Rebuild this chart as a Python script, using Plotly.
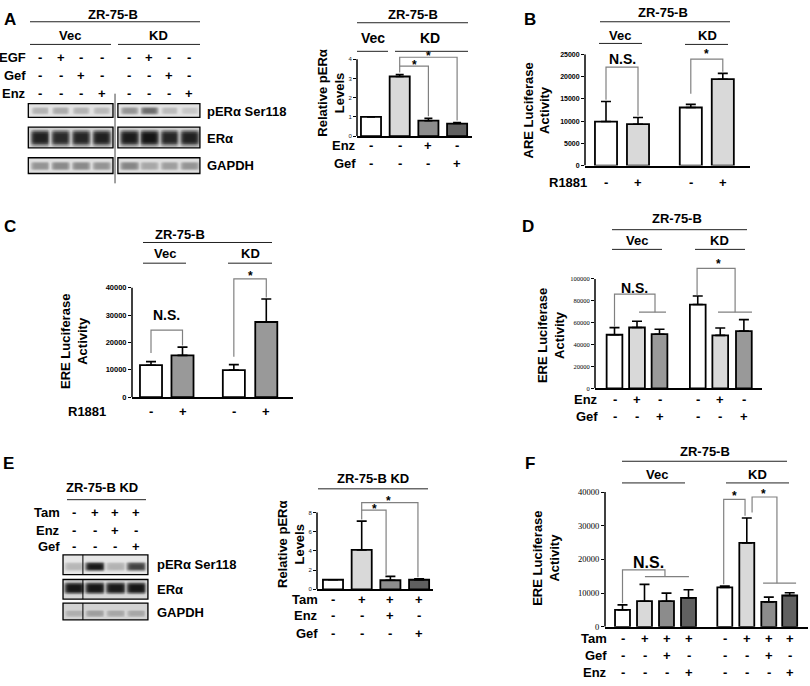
import numpy as np
import plotly.graph_objects as go

W, H = 810, 686
SANS = "Liberation Sans"
SERIF = "Liberation Serif"

# ======================= DATA =======================
# Panel A - western blot (band darkness 0..1); lanes: Vec x4, KD x4
a_egf = ["-", "+", "-", "-", "-", "+", "-", "-"]
a_gef = ["-", "-", "+", "-", "-", "-", "+", "-"]
a_enz = ["-", "-", "-", "+", "-", "-", "-", "+"]
a_per_band = [0.30, 0.34, 0.30, 0.27, 0.45, 0.62, 0.26, 0.20]
a_era_band = [0.92, 0.88, 0.90, 0.92, 0.94, 0.97, 0.90, 0.92]
a_gapdh_band = [0.45, 0.50, 0.50, 0.45, 0.52, 0.36, 0.40, 0.45]

# Panel A - quantification of pERa
a_vals = [1.0, 3.1, 0.80, 0.65]
a_errs = [0.0, 0.10, 0.12, 0.05]
a_enz_q = ["-", "-", "+", "-"]
a_gef_q = ["-", "-", "-", "+"]
a_ticks = [0, 1, 2, 3, 4]

# Panel B - ARE luciferase
b_vals = [9900, 9300, 13050, 19400]
b_errs = [4500, 1500, 700, 1300]
b_r1881 = ["-", "+", "-", "+"]
b_ticks = [0, 5000, 10000, 15000, 20000, 25000]

# Panel C - ERE luciferase
c_vals = [11700, 15300, 9900, 27500]
c_errs = [1300, 3000, 2000, 8400]
c_r1881 = ["-", "+", "-", "+"]
c_ticks = [0, 10000, 20000, 30000, 40000]

# Panel D - ERE luciferase
d_vals = [49000, 55600, 49500, 76600, 48400, 52300]
d_errs = [6500, 5700, 4500, 7800, 6800, 10500]
d_enz = ["-", "+", "-", "-", "+", "-"]
d_gef = ["-", "-", "+", "-", "-", "+"]
d_ticks = [0, 20000, 40000, 60000, 80000, 100000]

# Panel E - western blot (ZR-75-B KD)
e_tam = ["-", "+", "+", "+"]
e_enz = ["-", "-", "+", "-"]
e_gef = ["-", "-", "-", "+"]
e_per_band = [0.28, 0.95, 0.30, 0.78]
e_era_band = [0.96, 0.96, 0.95, 0.96]
e_gapdh_band = [0.32, 0.40, 0.36, 0.36]

# Panel E - quantification
e_vals = [1.0, 4.1, 0.95, 1.0]
e_errs = [0.0, 3.0, 0.40, 0.10]
e_ticks = [0, 2, 4, 6, 8]

# Panel F - ERE luciferase
f_vals = [5000, 7600, 7600, 8600, 11700, 24900, 7400, 9300]
f_errs = [1500, 5000, 2400, 2400, 400, 7400, 1400, 800]
f_tam = ["-", "+", "+", "+", "-", "+", "+", "+"]
f_gef = ["-", "-", "+", "-", "-", "-", "+", "-"]
f_enz = ["-", "-", "-", "+", "-", "-", "-", "+"]
f_ticks = [0, 10000, 20000, 30000, 40000]

# ======================= DRAWING =======================
fig = go.Figure()
axes = {}
annots = []
shapes = []


def keys(i):
    s = "" if i == 1 else str(i)
    return "xaxis" + s, "yaxis" + s, "x" + s, "y" + s


def text(x, y, s, size=13, bold=True, xanchor="center", yanchor="middle",
         angle=0, xref="paper", family=SANS, yshift=0):
    annots.append(dict(
        x=x / W if xref == "paper" else x, y=1 - y / H, xref=xref, yref="paper",
        text=("<b>%s</b>" % s) if bold else s, showarrow=False,
        xanchor=xanchor, yanchor=yanchor, textangle=angle, yshift=yshift,
        font=dict(family=family, size=size, color="black")))


def hline(x0, x1, y, color="#222222", width=1.0):
    shapes.append(dict(type="line", xref="paper", yref="paper",
                       x0=x0 / W, x1=x1 / W, y0=1 - y / H, y1=1 - y / H,
                       line=dict(color=color, width=width)))


def header(cx, cy, s, x0, x1, ly, size=13):
    text(cx, cy, s, size=size)
    hline(x0, x1, ly)


def sign_rows(xref, pos, rows, right_px, size=13):
    for label, signs, y in rows:
        text(right_px, y, label, size=size, xanchor="right")
        for p, s in zip(pos, signs):
            text(p, y, s, size=size, xref=xref)


def bar_panel(i, pos, vals, errs, colors, xdom, c0, sp, y0, yref_px, yref_val,
              vmax, ticks, tickfont, bw, cap):
    xk, yk, xr, yr = keys(i)
    scale = (y0 - yref_px) / yref_val
    ytop = y0 - vmax * scale
    axes[xk] = dict(domain=[xdom[0] / W, xdom[1] / W],
                    range=[(xdom[0] - c0) / sp, (xdom[1] - c0) / sp],
                    anchor=yr, showline=True, linecolor="black", linewidth=1.5,
                    ticks="", showticklabels=False, showgrid=False, zeroline=False)
    axes[yk] = dict(domain=[1 - y0 / H, 1 - ytop / H], range=[0, vmax], anchor=xr,
                    showline=False, ticks="outside", ticklen=3, tickwidth=1,
                    tickcolor="black", tickvals=ticks,
                    ticktext=[str(t) for t in ticks], tickfont=tickfont,
                    showgrid=False, zeroline=False)
    fig.add_trace(go.Bar(
        x=pos, y=vals, width=bw, xaxis=xr, yaxis=yr, hoverinfo="skip",
        marker=dict(color=colors, line=dict(color="black", width=1.8)),
        error_y=dict(type="data", symmetric=False, array=errs,
                     arrayminus=[0] * len(errs), color="black",
                     thickness=1.6, width=cap)))
    shapes.append(dict(type="line", xref=xr + " domain", yref=yr, x0=0, x1=0,
                       y0=0, y1=ticks[-1], line=dict(color="black", width=1.5)))
    return xr, yr


def brackets(xr, yr, paths, color="#808080", width=1.2):
    xs, ys = [], []
    for path in paths:
        for (px_, py_) in path:
            xs.append(px_)
            ys.append(py_)
        xs.append(None)
        ys.append(None)
    fig.add_trace(go.Scatter(x=xs, y=ys, mode="lines", xaxis=xr, yaxis=yr,
                             hoverinfo="skip",
                             line=dict(color=color, width=width)))


def tops(vals, errs):
    return [v + e for v, e in zip(vals, errs)]


BLOT_CS = [[0, "#f0f0f0"], [0.5, "#8a8a8a"], [1, "#0c0c0c"]]


def blot_strip(xr, yr, lanes, bands, xlo, xhi, ytop, ybot, bg, cfrac, hfrac, bwid):
    xs = np.linspace(xlo, xhi, 90)
    ys = np.linspace(ytop, ybot, 30)
    z = np.full((len(ys), len(xs)), bg)
    yc = ytop + cfrac * (ybot - ytop)
    hh = hfrac * (ybot - ytop)
    vy = np.exp(-((ys - yc) / hh) ** 4)
    for lx, b in zip(lanes, bands):
        hx = np.exp(-((xs - lx) / (bwid / 2)) ** 6)
        z = np.maximum(z, b * np.outer(vy, hx))
    fig.add_trace(go.Heatmap(x=xs, y=ys, z=z, zmin=0, zmax=1, colorscale=BLOT_CS,
                             showscale=False, zsmooth="best", xaxis=xr, yaxis=yr,
                             hoverinfo="skip"))
    shapes.append(dict(type="rect", xref=xr, yref=yr, x0=xlo, x1=xhi, y0=ytop,
                       y1=ybot, line=dict(color="black", width=1.3)))


def blot_axes(i, xdom, c0, sp, ytop, ybot):
    xk, yk, xr, yr = keys(i)
    axes[xk] = dict(domain=[xdom[0] / W, xdom[1] / W],
                    range=[(xdom[0] - c0) / sp, (xdom[1] - c0) / sp], anchor=yr,
                    visible=False)
    axes[yk] = dict(domain=[1 - ybot / H, 1 - ytop / H], range=[ybot, ytop],
                    anchor=xr, visible=False)
    return xr, yr


# ---------------- Panel A : blot ----------------
text(10, 15, "A", size=17)
xa, ya = blot_axes(1, (24, 205), 40, 20.5, 88, 182)
a_lanes_vec = [0, 1, 2, 3]
a_lanes_kd = [4.35, 5.33, 6.3, 7.28]
a_lanes = a_lanes_vec + a_lanes_kd
header(113, 10, "ZR-75-B", 30, 200, 17)
header(70, 31, "Vec", 30, 111, 40)
header(158, 31, "KD", 118, 200, 40)
sign_rows(xa, a_lanes, [("EGF", a_egf, 53), ("Gef", a_gef, 72), ("Enz", a_enz, 90)], 28)
for lanes, sl, (x0, x1) in [(a_lanes_vec, slice(0, 4), (-0.57, 3.56)),
                            (a_lanes_kd, slice(4, 8), (3.8, 7.8))]:
    blot_strip(xa, ya, lanes, a_per_band[sl], x0, x1, 100, 114, 0.07, 0.5, 0.28, 0.85)
    blot_strip(xa, ya, lanes, a_era_band[sl], x0, x1, 124, 145, 0.16, 0.5, 0.40, 0.95)
    blot_strip(xa, ya, lanes, a_gapdh_band[sl], x0, x1, 155, 171, 0.09, 0.5, 0.28, 0.92)
shapes.append(dict(type="line", xref=xa, yref=ya, x0=3.66, x1=3.66, y0=90, y1=181,
                   line=dict(color="#444444", width=1)))
text(205, 108, "pERα Ser118", xanchor="left")
text(205, 135, "ERα", xanchor="left")
text(205, 163, "GAPDH", xanchor="left")

# ---------------- Panel A : quantification ----------------
a_pos = [0, 1, 2, 3]
xr, yr = bar_panel(2, a_pos, a_vals, a_errs, ["white", "#d9d9d9", "#8c8c8c", "#606060"],
                   (357, 472), 371, 28.7, 133, 55, 4, 4.4, a_ticks,
                   dict(family=SANS, size=6, color="#222"), 0.7, 4)
t = tops(a_vals, a_errs)
pad = 0.11
brackets(xr, yr, [[(1, t[1] + pad), (1, 4.1), (3, 4.1), (3, t[3] + pad)],
                  [(1, 3.64), (2, 3.64), (2, t[2] + pad)]])
text(1.5, 58, "*", size=12, xref=xr, yshift=-3)
text(2.0, 49, "*", size=12, xref=xr, yshift=-3)
header(413, 10, "ZR-75-B", 357, 468, 18)
header(373, 33, "Vec", 357, 388, 47, size=14)
header(430, 33, "KD", 395, 468, 47, size=14)
text(331, 90, "Relative pERα<br>Levels", size=13, angle=-90)
sign_rows(xr, a_pos, [("Enz", a_enz_q, 143), ("Gef", a_gef_q, 161)], 358)

# ---------------- Panel B ----------------
text(530, 15, "B", size=17)
b_pos = [0, 1, 2.65, 3.65]
xr, yr = bar_panel(3, b_pos, b_vals, b_errs, ["white", "#d9d9d9", "white", "#d9d9d9"],
                   (585, 750), 606, 32, 163, 50, 25000, 25000, b_ticks,
                   dict(family=SANS, size=7, color="black", weight="bold"), 0.69, 5)
t = tops(b_vals, b_errs)
pad = 400
brackets(xr, yr, [[(0, t[0] + pad), (0, 22100), (1, 22100), (1, t[1] + pad)],
                  [(2.65, 16150), (2.65, 23900), (3.65, 23900), (3.65, t[3] + pad)]])
text(0.5, 55, "N.S.", size=14, xref=xr)
text(3.15, 47, "*", size=12, xref=xr, yshift=-3)
header(663, 8, "ZR-75-B", 600, 730, 17)
header(620, 31, "Vec", 599, 642, 39)
header(707, 31, "KD", 685, 728, 40)
text(537, 107, "ARE Luciferase<br>Activity", size=13, angle=-90)
sign_rows(xr, b_pos, [("R1881", b_r1881, 180)], 589)

# ---------------- Panel C ----------------
text(10, 225, "C", size=17)
c_pos = [0, 1, 2.63, 3.66]
xr, yr = bar_panel(4, c_pos, c_vals, c_errs, ["white", "#999999", "white", "#999999"],
                   (132, 293), 151, 31.5, 398, 287, 40000, 44500, c_ticks,
                   dict(family=SANS, size=7.5, color="black", weight="bold"), 0.7, 5)
t = tops(c_vals, c_errs)
pad = 600
brackets(xr, yr, [[(0, 16200), (0, 24500), (1, 24500), (1, t[1] + pad)],
                  [(2.63, 14770), (2.63, 43240), (3.66, 43240), (3.66, t[3] + pad)]])
text(0.5, 315, "N.S.", size=14, xref=xr)
text(3.15, 272, "*", size=12, xref=xr, yshift=-3)
header(180, 233, "ZR-75-B", 143, 272, 241)
header(165, 252, "Vec", 143, 186, 262)
header(250, 252, "KD", 228, 272, 262)
text(74, 342, "ERE Luciferase<br>Activity", size=13, angle=-90)
sign_rows(xr, c_pos, [("R1881", c_r1881, 413)], 108)

# ---------------- Panel D ----------------
text(528, 225, "D", size=17)
d_pos = [0, 1, 2, 3.7, 4.7, 5.75]
xr, yr = bar_panel(5, d_pos, d_vals, d_errs,
                   ["white", "#d9d9d9", "#999999", "white", "#d9d9d9", "#999999"],
                   (595, 762), 614.5, 22.5, 389, 278, 100000, 112000, d_ticks,
                   dict(family=SERIF, size=6.5, color="black"), 0.7, 5)
t = tops(d_vals, d_errs)
pad = 800
brackets(xr, yr, [[(0, t[0] + pad), (0, 86200), (1.8, 86200), (1.8, 69600)],
                  [(1.09, 69600), (2.29, 69600)],
                  [(3.67, t[3] + pad), (3.67, 109600), (5.36, 109600), (5.36, 69600)],
                  [(4.6, 69600), (6.11, 69600)]])
text(0.9, 287, "N.S.", size=14, xref=xr)
text(4.6, 260, "*", size=12, xref=xr, yshift=-3)
header(677, 217, "ZR-75-B", 612, 747, 228)
header(637, 239, "Vec", 612, 662, 248)
header(719, 239, "KD", 695, 745, 248)
text(551, 336, "ERE Luciferase<br>Activity", size=13, angle=-90)
sign_rows(xr, d_pos, [("Enz", d_enz, 400), ("Gef", d_gef, 418)], 600)

# ---------------- Panel E : blot ----------------
text(8, 465, "E", size=17)
xe, ye = blot_axes(6, (58, 152), 74, 20.7, 553, 629)
e_lanes = [0, 1, 2, 3]
header(102, 490, "ZR-75-B KD", 67, 146, 502)
sign_rows(xe, e_lanes, [("Tam", e_tam, 515), ("Enz", e_enz, 533), ("Gef", e_gef, 550)], 62)
blot_strip(xe, ye, e_lanes, e_per_band, -0.53, 3.57, 558, 578, 0.05, 0.58, 0.22, 0.95)
blot_strip(xe, ye, e_lanes, e_era_band, -0.53, 3.57, 583, 603, 0.12, 0.42, 0.30, 0.98)
blot_strip(xe, ye, e_lanes, e_gapdh_band, -0.53, 3.57, 607, 624, 0.14, 0.6, 0.22, 0.95)
for (y0, y1) in [(558, 578), (583, 603), (607, 624)]:
    shapes.append(dict(type="line", xref=xe, yref=ye, x0=0.43, x1=0.43, y0=y0, y1=y1,
                       line=dict(color="black", width=1)))
text(155, 568, "pERα Ser118", xanchor="left")
text(155, 593, "ERα", xanchor="left")
text(155, 616, "GAPDH", xanchor="left")

# ---------------- Panel E : quantification ----------------
e_pos = [0, 1, 2, 3]
xr, yr = bar_panel(7, e_pos, e_vals, e_errs, ["white", "#d9d9d9", "#8c8c8c", "#606060"],
                   (317, 433), 333, 28.7, 593, 515, 8, 9.3, e_ticks,
                   dict(family=SANS, size=6, color="#222"), 0.7, 5)
t = tops(e_vals, e_errs)
pad = 0.16
brackets(xr, yr, [[(1, t[1] + pad), (1, 9.03), (2.96, 9.03), (2.96, t[3] + pad)],
                  [(1, 8.24), (1.85, 8.24), (1.85, t[2] + pad)]])
text(1.43, 508, "*", size=12, xref=xr, yshift=-3)
text(1.92, 500, "*", size=12, xref=xr, yshift=-3)
header(373, 480, "ZR-75-B KD", 318, 428, 491)
text(291, 548, "Relative pERα<br>Levels", size=13, angle=-90)
sign_rows(xr, e_pos, [("Tam", e_tam, 603), ("Enz", e_enz, 620), ("Gef", e_gef, 638)], 320)

# ---------------- Panel F ----------------
text(530, 465, "F", size=17)
f_pos = [0, 1, 2, 3, 4.65, 5.65, 6.65, 7.6]
xr, yr = bar_panel(8, f_pos, f_vals, f_errs,
                   ["white", "#d9d9d9", "#8c8c8c", "#606060"] * 2,
                   (605, 808), 622.5, 22, 631, 494.3, 40000, 40000, f_ticks,
                   dict(family=SERIF, size=8.5, color="black"), 0.68, 5)
t = tops(f_vals, f_errs)
pad = 500
brackets(xr, yr, [[(0, t[0] + pad), (0, 16880), (1.93, 16880), (1.93, 14920)],
                  [(1.02, 14920), (3.02, 14920)],
                  [(4.6, t[4] + pad), (4.6, 37830), (5.57, 37830), (5.57, t[5] + 700)],
                  [(5.89, 33950), (5.89, 38540), (7.02, 38540), (7.02, 12960)],
                  [(6.39, 12960), (7.89, 12960)]])
text(1.16, 566, "N.S.", size=16, xref=xr)
text(5.11, 495, "*", size=12, xref=xr, yshift=-3)
text(6.43, 493, "*", size=12, xref=xr, yshift=-3)
header(705, 453, "ZR-75-B", 622, 787, 463)
header(657, 476, "Vec", 622, 685, 485)
header(757, 476, "KD", 726, 789, 485)
text(546, 562, "ERE Luciferase<br>Activity", size=13, angle=-90)
sign_rows(xr, f_pos, [("Tam", f_tam, 643), ("Gef", f_gef, 660), ("Enz", f_enz, 677)], 609)

fig.update_layout(
    width=W, height=H, margin=dict(l=0, r=0, t=0, b=0),
    paper_bgcolor="white", plot_bgcolor="white", showlegend=False,
    font=dict(family=SANS, color="black"),
    annotations=annots, shapes=shapes, **axes)

fig.write_html("out.html", config={"displayModeBar": False},
               post_script="document.body.style.margin='0';")
